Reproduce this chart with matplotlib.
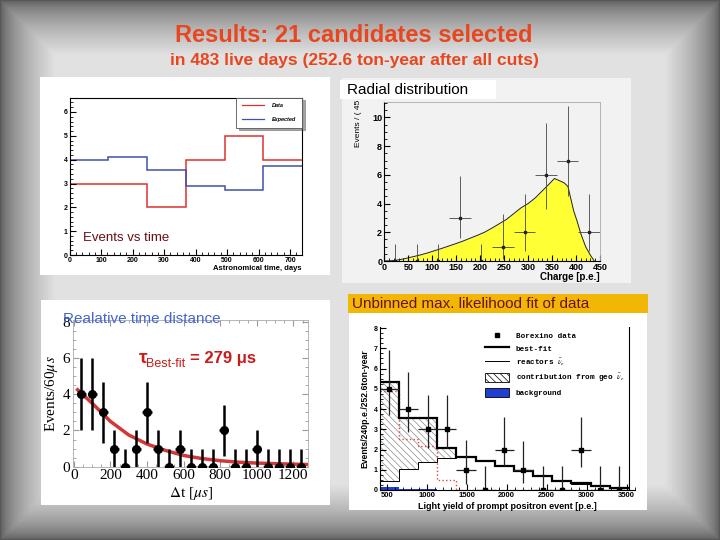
import matplotlib
matplotlib.use('Agg')
import matplotlib.pyplot as plt
from matplotlib.patches import Rectangle, Patch
from matplotlib.lines import Line2D
from matplotlib.ticker import AutoMinorLocator, MultipleLocator
import numpy as np

W, H = 720, 540
plt.rcParams.update({'font.family': 'Liberation Sans', 'font.size': 8,
                     'mathtext.fontset': 'stix', 'hatch.linewidth': 0.5})

# ---- data: events vs time ----
time_edges = [0, 123, 246, 369, 492, 615, 738]
time_data = [3, 3, 2, 4, 5, 4]
time_expected = [4.0, 4.13, 3.58, 2.88, 2.73, 3.75]

# ---- data: charge (radial) distribution ----
charge_x = [0, 15, 30, 45, 60, 75, 90, 105, 120, 135, 150, 165, 180, 195, 210, 225,
            240, 255, 270, 285, 300, 315, 330, 345, 355, 365, 375, 383, 388, 395,
            402, 410, 420, 430, 438]
charge_mc = [0, 0.02, 0.08, 0.18, 0.3, 0.42, 0.56, 0.72, 0.88, 1.05, 1.22, 1.4, 1.6,
             1.8, 2.02, 2.3, 2.6, 2.9, 3.3, 3.7, 4.0, 4.4, 4.9, 5.4, 5.75, 5.6, 5.45,
             5.2, 4.5, 3.5, 2.8, 1.9, 1.0, 0.4, 0]
charge_bins = [22.5, 67.5, 112.5, 157.5, 202.5, 247.5, 292.5, 337.5, 382.5, 427.5]
charge_counts = [0, 0, 0, 3, 0, 1, 2, 6, 7, 2]
charge_lo = [0, 0, 0, 1.4, 0, 0.83, 1.3, 2.4, 2.5, 1.3]
charge_hi = [1.15, 1.15, 1.15, 2.95, 1.15, 2.3, 2.65, 3.6, 3.8, 2.65]
charge_xerr = [0, 0, 0, 22.5, 0, 22.5, 22.5, 22.5, 22.5, 22.5]

# ---- data: relative time distance ----
dt_centers = [40, 100, 160, 220, 280, 340, 400, 460, 520, 580, 640, 700, 760, 820,
              880, 940, 1000, 1060, 1120, 1180, 1240]
dt_counts = [4, 4, 3, 1, 0, 1, 3, 1, 0, 1, 0, 0, 0, 2, 0, 0, 1, 0, 0, 0, 0]
dt_lo = [2, 2, 1.7, 1, 0, 1, 1.7, 1, 0, 1, 0, 0, 0, 1.4, 0, 0, 1, 0, 0, 0, 0]
dt_hi = [2, 2, 1.7, 1, 1, 1, 1.7, 1, 1, 1, 1, 1, 1, 1.4, 1, 1, 1, 1, 1, 1, 1]
fit_x = [20, 100, 200, 300, 400, 500, 600, 700, 800, 900, 1000, 1100, 1200, 1280]
fit_y = [4.25, 3.5, 2.5, 1.75, 1.25, 0.9, 0.62, 0.45, 0.33, 0.25, 0.2, 0.17, 0.14, 0.12]

# ---- data: light yield spectrum ----
ly_edges = [410, 650, 890, 1130, 1370, 1610, 1850, 2090, 2330, 2570, 2810, 3050, 3290, 3530]
ly_bestfit = [5.35, 3.55, 3.55, 2.05, 1.65, 1.45, 1.2, 0.95, 0.7, 0.44, 0.33, 0.21, 0.1]
ly_reactor = [0.45, 1.05, 1.4, 1.6, 1.62, 1.43, 1.18, 0.93, 0.68, 0.43, 0.32, 0.2, 0.09]
ly_geo = [4.9, 2.5, 2.15, 0.5, 0, 0, 0, 0, 0, 0, 0, 0, 0]
ly_bkg = [0.15, 0.07, 0.04, 0.02, 0.01, 0.01, 0.01, 0.01, 0.01, 0.01, 0.01, 0.01, 0.01]
ly_centers = [530, 770, 1010, 1250, 1490, 1730, 1970, 2210, 2450, 2690, 2930, 3170, 3410]
ly_counts = [5, 4, 3, 3, 1, 0, 2, 1, 0, 0, 2, 0, 0]
ly_lo = [1.3, 1.15, 0.95, 0.95, 0.7, 0, 0.8, 0.65, 0, 0, 0.85, 0, 0]
ly_hi = [1.9, 1.85, 1.7, 1.7, 1.45, 1.2, 1.6, 1.4, 1.2, 1.2, 1.6, 1.2, 1.2]

fig = plt.figure(figsize=(7.2, 5.4), dpi=100)


def box(l, t, r, b):
    return [l / W, 1 - b / H, (r - l) / W, (b - t) / H]


def rect(l, t, r, b, color, z=-5):
    fig.add_artist(Rectangle((l / W, 1 - b / H), (r - l) / W, (b - t) / H,
                             transform=fig.transFigure, facecolor=color,
                             edgecolor='none', zorder=z))


# background: light centre fading to dark grey frame
bg = fig.add_axes([0, 0, 1, 1], zorder=-10)
yy, xx = np.mgrid[0:H, 0:W]
d = np.minimum(np.minimum(xx, W - 1 - xx), np.minimum(yy, H - 1 - yy))
shade = 0.34 + 0.54 * np.clip(d / 55.0, 0, 1) ** 0.6
bg.imshow(shade, cmap='gray', vmin=0, vmax=1, aspect='auto', extent=[0, 1, 0, 1])
bg.axis('off')

fig.text(354 / W, 1 - 36 / H, 'Results: 21 candidates selected', ha='center', va='center',
         color='#e8461e', fontsize=17, fontweight='bold')
fig.text(354 / W, 1 - 61 / H, 'in 483 live days (252.6 ton-year after all cuts)',
         ha='center', va='center', color='#e8461e', fontsize=12.5, fontweight='bold')

# ---- panel 1: events vs time ----
rect(40, 77, 330, 275, 'white')
ax1 = fig.add_axes(box(69.7, 97.7, 302, 255))
ax1.stairs(time_data, time_edges, baseline=None, color='#e03030', lw=1.1, label='Data')
ax1.stairs(time_expected, time_edges, baseline=None, color='#4050b0', lw=1.1, label='Expected')
ax1.set_xlim(0, 738); ax1.set_ylim(0, 6.6)
ax1.xaxis.set_major_locator(MultipleLocator(100)); ax1.xaxis.set_minor_locator(AutoMinorLocator(5))
ax1.yaxis.set_major_locator(MultipleLocator(1)); ax1.yaxis.set_minor_locator(AutoMinorLocator(5))
ax1.tick_params(which='both', direction='in', labelsize=5, pad=1.5)
ax1.tick_params(which='major', length=4); ax1.tick_params(which='minor', length=2)
for lab in ax1.get_xticklabels() + ax1.get_yticklabels():
    lab.set_fontweight('bold')
for s in ax1.spines.values():
    s.set_linewidth(0.8)
ax1.set_xlabel('Astronomical time, days', fontsize=5.5, fontweight='bold', loc='right', labelpad=1)
leg1 = ax1.legend(handles=[Line2D([], [], color='#e03030', lw=0.9),
                           Line2D([], [], color='#4050b0', lw=0.9)],
                  labels=['Data', 'Expected'], loc='upper right', bbox_to_anchor=(1.0, 1.0),
                  borderaxespad=0, fancybox=False, shadow=True, edgecolor='#555',
                  framealpha=1, prop={'size': 4, 'style': 'italic', 'weight': 'bold'},
                  handlelength=4, handletextpad=1.5, labelspacing=1.6, borderpad=1.0)
leg1.get_frame().set_linewidth(0.6)
fig.text(83 / W, 1 - 238 / H, 'Events vs time', color='#6a0d0d', fontsize=9.5,
         va='center', ha='left')

# ---- panel 2: radial / charge distribution ----
rect(342, 78, 631, 283, '#f2f2f2')
ax2 = fig.add_axes(box(384.3, 101.7, 600, 261))
ax2.set_facecolor('#f2f2f2')
ax2.fill_between(charge_x, charge_mc, color='#ffff33', lw=0)
ax2.plot(charge_x, charge_mc, color='#222', lw=0.7)
ax2.errorbar(charge_bins, charge_counts, yerr=[charge_lo, charge_hi], xerr=charge_xerr,
             fmt='s', ms=2, color='#222', ecolor='#444', elinewidth=0.6, capsize=0)
ax2.set_xlim(0, 450); ax2.set_ylim(0, 11.1)
ax2.xaxis.set_major_locator(MultipleLocator(50)); ax2.xaxis.set_minor_locator(AutoMinorLocator(5))
ax2.yaxis.set_major_locator(MultipleLocator(2)); ax2.yaxis.set_minor_locator(AutoMinorLocator(4))
ax2.tick_params(which='both', direction='in', labelsize=6.5, pad=1.5)
ax2.tick_params(which='major', length=4); ax2.tick_params(which='minor', length=2)
for lab in ax2.get_xticklabels() + ax2.get_yticklabels():
    lab.set_fontweight('bold')
for k in ['top', 'right']:
    ax2.spines[k].set_color('#aaaaaa'); ax2.spines[k].set_linewidth(0.6)
ax2.set_xlabel('Charge [p.e.]', fontsize=7, fontweight='bold', loc='right', labelpad=0)
fig.text(358 / W, 1 - 147 / H, 'Events / ( 45 )', rotation=90, fontsize=6,
         ha='center', va='bottom', zorder=4)
rect(340, 80, 496, 99, 'white', z=5)
fig.text(347 / W, 1 - 90 / H, 'Radial distribution', fontsize=11, ha='left',
         va='center', zorder=6)

# ---- panel 3: relative time distance ----
rect(41, 300, 330, 505, 'white')
ax3 = fig.add_axes(box(73, 320, 308, 466.7))
ax3.plot(fit_x, fit_y, color='#cc2222', lw=2.5, alpha=0.9, zorder=2)
ax3.errorbar(dt_centers, dt_counts, yerr=[dt_lo, dt_hi], xerr=25, fmt='o', ms=5.5,
             color='black', elinewidth=1.8, capsize=0, zorder=3)
ax3.set_xlim(-5, 1280); ax3.set_ylim(0, 8.1)
ax3.xaxis.set_major_locator(MultipleLocator(200)); ax3.xaxis.set_minor_locator(AutoMinorLocator(4))
ax3.yaxis.set_major_locator(MultipleLocator(2)); ax3.yaxis.set_minor_locator(AutoMinorLocator(4))
ax3.tick_params(which='both', direction='in', top=True, right=True, color='#999',
                labelsize=11, pad=2)
ax3.tick_params(which='major', length=4); ax3.tick_params(which='minor', length=2)
for lab in ax3.get_xticklabels() + ax3.get_yticklabels():
    lab.set_fontfamily('Liberation Serif')
for s in ax3.spines.values():
    s.set_color('#aaaaaa'); s.set_linewidth(0.6)
ax3.set_ylabel(r'Events/60$\mu s$', fontsize=11, fontfamily='Liberation Serif', labelpad=2)
ax3.set_xlabel(r'$\Delta$t [$\mu s$]', fontsize=11, fontfamily='Liberation Serif', labelpad=2)
fig.text(63 / W, 1 - 319 / H, 'Realative time distance', color='#4466cc', fontsize=11,
         ha='left', va='center')
fig.text(139 / W, 1 - 363 / H, 'τ', color='#cc1a1a', fontsize=14, fontweight='bold',
         ha='left', va='baseline')
fig.text(146 / W, 1 - 367 / H, 'Best-fit', color='#cc1a1a', fontsize=9, ha='left',
         va='baseline')
fig.text(190 / W, 1 - 363 / H, '= 279 μs', color='#cc1a1a', fontsize=12, fontweight='bold',
         ha='left', va='baseline')

# ---- panel 4: unbinned likelihood fit ----
rect(348, 294, 648, 313, '#f2b705')
fig.text(352 / W, 1 - 304 / H, 'Unbinned max. likelihood fit of data', color='#6b1010',
         fontsize=11, ha='left', va='center')
rect(349, 313, 647, 510, 'white')
ax4 = fig.add_axes(box(380, 327, 635, 490))
ax4.stairs(ly_bestfit[:4], ly_edges[:5], baseline=ly_reactor[:4], fill=True,
           facecolor='white', edgecolor='#888888', hatch='\\\\\\\\\\', lw=0)
ax4.stairs(ly_bkg, ly_edges, baseline=0, fill=True, color='#1f3fd0', lw=0)
ax4.stairs(ly_geo, ly_edges, baseline=None, color='#dd4444', lw=1.0, ls=':')
ax4.stairs(ly_reactor, ly_edges, baseline=None, color='black', lw=0.7)
ax4.stairs(ly_bestfit, ly_edges, baseline=None, color='black', lw=1.6)
ax4.errorbar(ly_centers, ly_counts, yerr=[ly_lo, ly_hi], xerr=120, fmt='s', ms=2.5,
             color='black', ecolor='#222', elinewidth=0.9, capsize=0)
ax4.axvline(ly_edges[-1], color='black', lw=0.8)
ax4.set_xlim(416, 3604); ax4.set_ylim(0, 8.05)
ax4.xaxis.set_major_locator(MultipleLocator(500)); ax4.xaxis.set_minor_locator(AutoMinorLocator(5))
ax4.yaxis.set_major_locator(MultipleLocator(1)); ax4.yaxis.set_minor_locator(AutoMinorLocator(4))
ax4.tick_params(which='both', direction='in', labelsize=5.5, pad=1.5)
ax4.tick_params(axis='y', labelsize=5)
ax4.tick_params(which='major', length=4); ax4.tick_params(which='minor', length=2)
for lab in ax4.get_xticklabels() + ax4.get_yticklabels():
    lab.set_fontweight('bold')
ax4.spines['top'].set_visible(False); ax4.spines['right'].set_visible(False)
ax4.set_ylabel('Events/240p.e./252.6ton-year', fontsize=6.2, fontweight='bold', labelpad=3)
ax4.set_xlabel('Light yield of prompt positron event [p.e.]', fontsize=6.5,
               fontweight='bold', labelpad=2)
handles4 = [Line2D([], [], ls='none', marker='s', ms=2.5, color='black'),
            Line2D([], [], color='black', lw=1.6),
            Line2D([], [], color='black', lw=0.7),
            Patch(facecolor='white', edgecolor='black', hatch='\\\\\\\\\\', lw=0.6),
            Patch(facecolor='#1f3fd0', edgecolor='black', lw=0.6)]
labels4 = ['Borexino data', 'best-fit', 'reactors $\\bar{\\nu}_e$',
           'contribution from geo $\\bar{\\nu}_e$', 'background']
ax4.legend(handles4, labels4, loc='upper left', bbox_to_anchor=(0.41, 0.975), frameon=False,
           borderaxespad=0, borderpad=0, handlelength=3.2, handleheight=1.5,
           labelspacing=0.45, handletextpad=0.9,
           prop={'family': 'Liberation Mono', 'weight': 'bold', 'size': 5.5})

fig.savefig('out.png', dpi=100)
